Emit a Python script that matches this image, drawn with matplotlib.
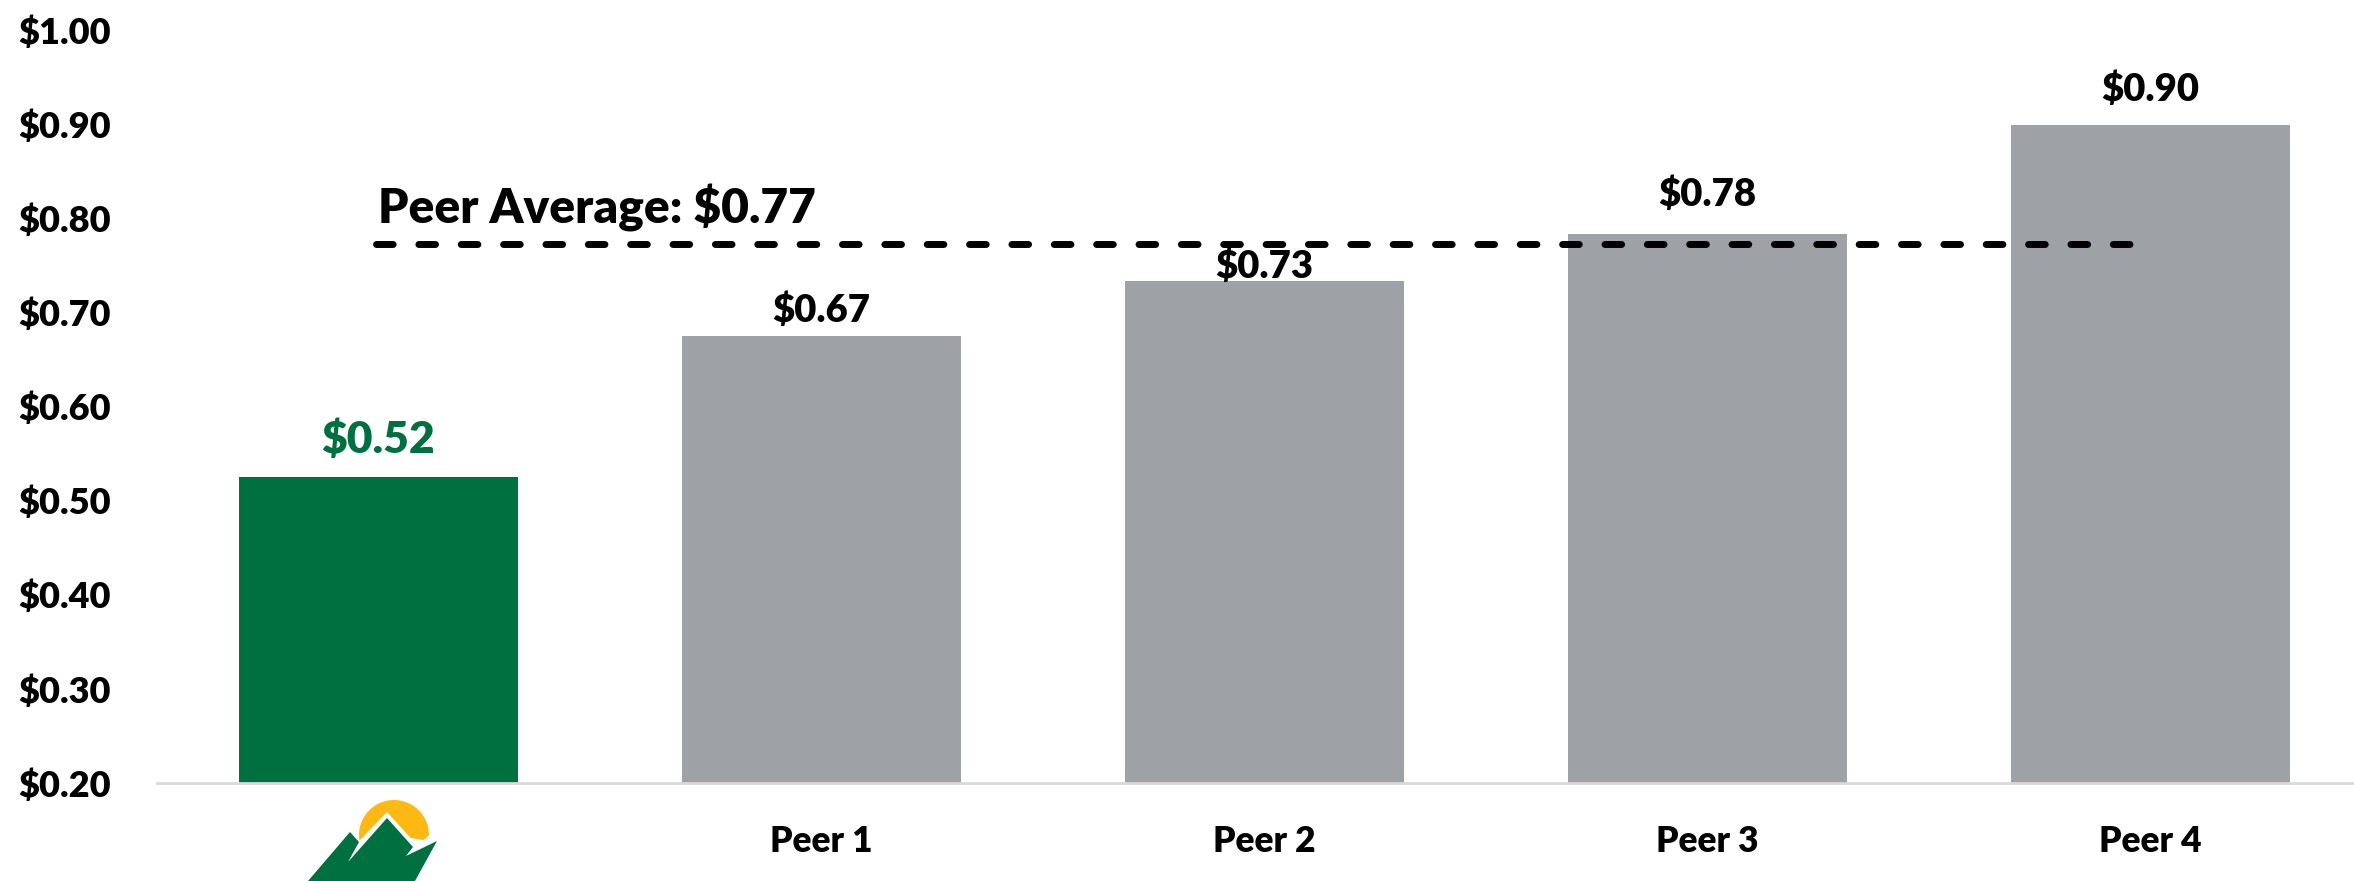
import matplotlib
matplotlib.use("Agg")
import matplotlib.pyplot as plt
from matplotlib.patches import Polygon, Wedge

W, H = 2354, 881
categories = ["", "Peer 1", "Peer 2", "Peer 3", "Peer 4"]
values = [0.525, 0.675, 0.733, 0.783, 0.899]
labels = ["$0.52", "$0.67", "$0.73", "$0.78", "$0.90"]
yticks = [0.2, 0.3, 0.4, 0.5, 0.6, 0.7, 0.8, 0.9, 1.0]
peer_avg = 0.773
GREEN = "#007040"
GREY = "#9EA1A5"
label_pad = [12, 6, -2, 16, 13]

plt.rcParams['font.family'] = ['Lato', 'DejaVu Sans']
fig = plt.figure(figsize=(W/100, H/100), dpi=100)
L, R, T, B = 157, 2354, 30, 783
ax = fig.add_axes([L/W, 1-B/H, (R-L)/W, (B-T)/H])
ax.set_xlim(-0.5, -0.5+(R-L)/443)
ax.set_ylim(0.2, 1.0)
colors = [GREEN, GREY, GREY, GREY, GREY]
x = list(range(5))
ax.bar(x, values, width=0.63, color=colors, zorder=2)
for s in ["top", "right", "left"]:
    ax.spines[s].set_visible(False)
ax.spines["bottom"].set_color("#D9D9D9")
ax.spines["bottom"].set_linewidth(2)
ax.set_xticks(x[1:], categories[1:], fontsize=25.5, fontweight="heavy", color="black")
ax.set_yticks(yticks, [f"\\${v:.2f}" for v in yticks], fontsize=26, fontweight="heavy")
ax.tick_params(axis="both", length=0)
ax.tick_params(axis="x", pad=30)
for lab in ax.get_yticklabels():
    lab.set_ha("left")
ax.tick_params(axis="y", pad=(L-18)*0.72)
for i, (v, t) in enumerate(zip(values, labels)):
    big = i == 0
    ax.annotate(t.replace("$", r"\$"), (i, v), xytext=(0, label_pad[i]), textcoords="offset points",
                ha="center", va="bottom", fontsize=32 if big else 27.5, fontweight="heavy",
                color=GREEN if big else "black", zorder=4)
ax.plot([-0.005, 4.01], [peer_avg, peer_avg], color="black", lw=5, dashes=(2.4, 3.7),
        dash_capstyle="round", zorder=3)
ax.text(0, 0.785, r"Peer Average: \$0.77", fontsize=34.5, fontweight="heavy", va="bottom", ha="left", zorder=4)

# logo, drawn in pixel coordinates
ov = fig.add_axes([0, 0, 1, 1], facecolor="none")
ov.set_xlim(0, W); ov.set_ylim(H, 0); ov.axis("off")
ov.add_patch(Wedge((394, 835), 35, 170, 370, fc="#FDB913", ec="none"))
ov.add_patch(Polygon([[358, 842], [387, 812], [417, 845], [432, 833], [440, 862], [358, 862]], fc="white", ec="none"))
ov.add_patch(Polygon([[308, 881], [350, 832], [359, 842], [348, 862], [387, 818], [413, 847], [406, 856], [437, 841], [415, 881]], fc=GREEN, ec="none"))
fig.savefig("out.png", dpi=100)
